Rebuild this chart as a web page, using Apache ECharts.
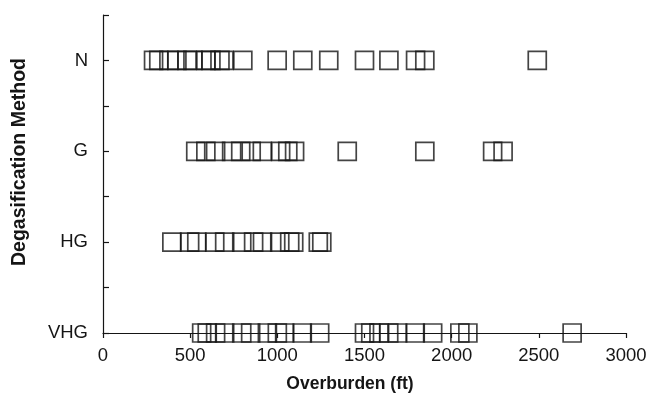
<!DOCTYPE html>
<html>
<head>
<meta charset="utf-8">
<script src="https://cdn.jsdelivr.net/npm/echarts@6/dist/echarts.min.js"></script>
<style>
    html, body { margin: 0; padding: 0; background: #fff; }
    #chart { width: 651px; height: 403px; }
</style>
</head>
<body>
<div id="chart"></div>
<script>
( () => {
    // categories from bottom (0) to top (3)
    const methods = [ 'VHG', 'HG', 'G', 'N' ];

    const overburdenN = [ 290, 320, 378, 424, 482, 516, 590, 619, 671, 694, 802, 999, 1146, 1295, 1500, 1640, 1793, 1846, 2491 ];
    const overburdenG = [ 532, 590, 646, 738, 790, 850, 914, 1019, 1060, 1099, 1401, 1846, 2235, 2295 ];
    const overburdenHG = [ 395, 497, 538, 641, 698, 796, 864, 915, 1014, 1071, 1094, 1235, 1255 ];
    const overburdenVHG = [ 566, 598, 646, 698, 796, 847, 943, 1000, 1042, 1143, 1243, 1500, 1536, 1583, 1639, 1690, 1791, 1891, 2047, 2093, 2691 ];

    const rows = [ overburdenVHG, overburdenHG, overburdenG, overburdenN ];

    const ink = '#151515';
    const font = 'Liberation Sans, Arial, sans-serif';

    const chart = echarts.init( document.getElementById( 'chart' ), null, { renderer: 'canvas' } );

    const option = {
        backgroundColor: '#fff',
        animation: false,
        grid: {
            left: 103,
            right: 25,
            top: 15,
            bottom: 70,
        },
        xAxis: {
            type: 'value',
            min: 0,
            max: 3000,
            interval: 500,
            axisLine: { lineStyle: { color: ink, width: 1.2 } },
            axisTick: { show: true, inside: false, length: 5, lineStyle: { color: ink, width: 1.2 } },
            axisLabel: {
                color: ink,
                fontSize: 18.5,
                fontFamily: font,
                margin: 13,
                formatter: ( v ) => String( v ),
            },
            splitLine: { show: false },
        },
        yAxis: {
            type: 'value',
            min: 0,
            max: 3.5,
            interval: 0.5,
            axisLine: { show: true, lineStyle: { color: ink, width: 1.2 } },
            axisTick: { show: true, inside: true, length: 6, lineStyle: { color: ink, width: 1.2 } },
            axisLabel: {
                color: ink,
                fontSize: 18.5,
                fontFamily: font,
                margin: 15,
                formatter: ( v ) => Number.isInteger( v ) && methods[ v ] ? methods[ v ] : '',
            },
            splitLine: { show: false },
        },
        graphic: [
            {
                type: 'text',
                x: 20,
                y: 162,
                rotation: Math.PI / 2,
                style: {
                    text: 'Degasification Method',
                    fill: ink,
                    font: 'bold 19.5px Liberation Sans, Arial, sans-serif',
                    align: 'center',
                    verticalAlign: 'middle',
                },
            },
            {
                type: 'text',
                x: 350,
                y: 384,
                style: {
                    text: 'Overburden (ft)',
                    fill: ink,
                    font: 'bold 17.5px Liberation Sans, Arial, sans-serif',
                    align: 'center',
                    verticalAlign: 'middle',
                },
            },
        ],
        series: rows.map( ( values, i ) => ( {
            name: methods[ i ],
            type: 'scatter',
            symbol: 'rect',
            symbolSize: 18,
            itemStyle: {
                color: 'rgba(0,0,0,0)',
                borderColor: ink,
                borderWidth: 1.7,
            },
            data: values.map( ( v ) => [ v, i ] ),
        } ) ),
    };

    chart.setOption( option );
} ) ();
</script>
</body>
</html>
